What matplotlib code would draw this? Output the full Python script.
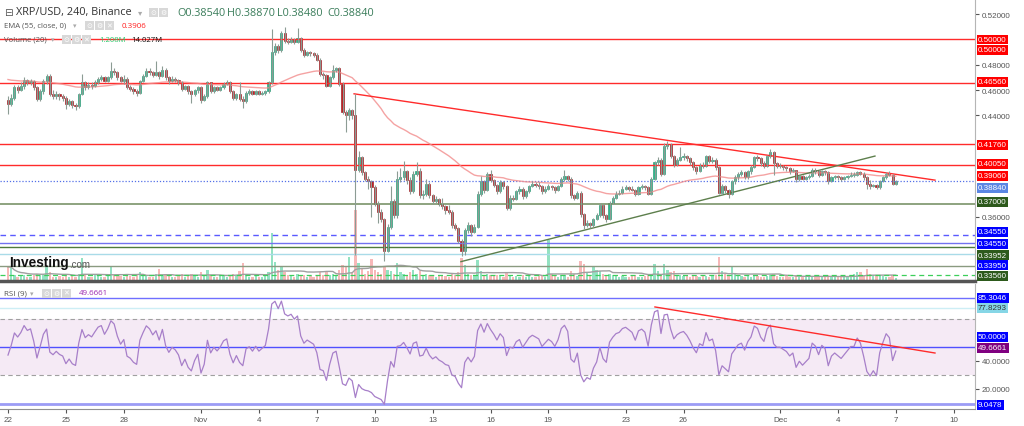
import numpy as np
import pandas as pd
import matplotlib
matplotlib.use('Agg')
import matplotlib.pyplot as plt
from matplotlib.patches import Rectangle

plt.rcParams['font.family'] = ['Liberation Sans', 'DejaVu Sans']

""" XRP/USD, 240 (4h candles), Binance -- Oct 21 to Dec 7 """

first_open = 0.452
closes = [
    .449, .454, .462, .460, .463, .468, .466, .467, .462, .453,
    .459, .467, .471, .457, .455, .457, .455, .454, .449, .451,
    .448, .447, .457, .466, .462, .464, .463, .466, .469, .470,
    .467, .470, .475, .474, .470, .467, .469, .462, .461, .459,
    .458, .467, .471, .475, .474, .472, .474, .471, .476, .470,
    .467, .469, .468, .466, .461, .463, .459, .457, .460, .462,
    .452, .455, .466, .459, .462, .460, .462, .465, .466, .459,
    .454, .457, .453, .451, .458, .459, .457, .459, .457, .458,
    .459, .466, .490, .495, .492, .505, .499, .498, .500, .498,
    .501, .492, .488, .490, .489, .488, .484, .473, .472,
    .463, .470, .476, .477, .465, .443, .440, .444, .440, .397,
    .407, .395, .390, .388, .383, .370, .364, .358, .333, .352,
    .372, .361, .390, .391, .396, .389, .380, .394, .396, .377,
    .378, .386, .377, .372, .374, .370, .368, .365, .364, .353, .351,
    .341, .333, .349, .353, .348, .352, .378, .388, .381, .394,
    .389, .385, .380, .387, .384, .367, .375, .374, .380, .382,
    .376, .380, .384, .386, .385, .384, .380, .382, .384, .383,
    .381, .384, .390, .392, .390, .377, .375, .379, .362, .353,
    .355, .353, .358, .361, .369, .361, .358, .371, .375, .378,
    .379, .382, .383, .382, .381, .378, .383, .384, .383, .378,
    .390, .403, .405, .394, .416, .417, .408, .401, .405, .407,
    .408, .406, .403, .399, .396, .401, .400, .408, .404, .405,
    .399, .379, .384, .381, .378, .388, .391, .394, .395, .391,
    .396, .399, .407, .406, .402, .400, .408, .411, .402, .400,
    .400, .399, .398, .396, .397, .390, .392, .390, .391, .392,
    .397, .396, .393, .396, .395, .388, .391, .392, .391, .390,
    .391, .392, .393, .393, .395, .394, .391, .386, .384, .385,
    .383, .388, .391, .394, .393, .3854, .3884]
highs = [
    .455, .457, .464, .464, .466, .470, .469, .469, .468, .463,
    .461, .469, .473, .473, .460, .459, .458, .457, .455, .453,
    .452, .450, .458, .473, .467, .466, .466, .468, .470, .472,
    .471, .471, .482, .477, .475, .471, .472, .470, .464, .462,
    .461, .468, .473, .477, .477, .475, .483, .475, .479, .477,
    .471, .471, .470, .469, .467, .464, .464, .460, .461, .463,
    .463, .457, .467, .466, .463, .463, .463, .466, .468, .467,
    .460, .458, .466, .455, .459, .461, .460, .460, .460, .459,
    .460, .467, .508, .497, .496, .507, .510, .501, .502, .501,
    .509, .502, .493, .491, .491, .490, .489, .485, .474,
    .473, .471, .480, .478, .478, .466, .444, .446, .445, .457,
    .412, .408, .396, .392, .389, .385, .372, .366, .359, .354,
    .384, .374, .396, .398, .404, .397, .391, .396, .403, .398,
    .381, .390, .387, .378, .376, .375, .375, .369, .369, .365, .355,
    .352, .342, .351, .356, .354, .354, .380, .392, .389, .395,
    .397, .390, .386, .389, .388, .385, .377, .377, .381, .384,
    .383, .381, .385, .388, .387, .387, .385, .384, .386, .385,
    .384, .385, .391, .397, .393, .391, .378, .380, .380, .363,
    .357, .356, .359, .363, .371, .370, .362, .372, .376, .380,
    .381, .384, .385, .384, .384, .382, .384, .386, .385, .384,
    .391, .404, .407, .406, .418, .420, .418, .409, .406, .415,
    .410, .409, .407, .404, .400, .402, .403, .409, .409, .407,
    .406, .400, .386, .385, .382, .389, .393, .395, .397, .396,
    .397, .401, .408, .409, .407, .404, .409, .413, .412, .403,
    .402, .401, .400, .399, .398, .397, .393, .393, .392, .394,
    .398, .398, .397, .397, .397, .396, .392, .393, .393, .392,
    .392, .393, .395, .395, .396, .396, .395, .392, .389, .386,
    .386, .389, .392, .395, .396, .394, .3887]
lows = [
    .441, .447, .452, .458, .459, .461, .464, .464, .460, .451,
    .451, .457, .465, .455, .453, .453, .452, .451, .445, .447,
    .446, .444, .446, .456, .460, .461, .461, .462, .465, .467,
    .466, .466, .469, .472, .468, .466, .465, .461, .459, .457,
    .455, .457, .466, .470, .472, .470, .471, .469, .470, .468,
    .465, .466, .466, .464, .459, .460, .457, .450, .455, .458,
    .450, .451, .454, .458, .458, .459, .459, .461, .464, .458,
    .452, .452, .451, .446, .450, .456, .456, .456, .456, .456,
    .456, .458, .465, .488, .489, .490, .497, .496, .497, .496,
    .497, .490, .486, .487, .487, .486, .483, .471, .469,
    .462, .462, .469, .474, .463, .441, .427, .436, .437, .330,
    .395, .393, .388, .382, .360, .368, .355, .356, .325, .332,
    .350, .359, .359, .387, .389, .386, .378, .379, .392, .375,
    .374, .376, .375, .370, .371, .368, .366, .362, .362, .351, .349,
    .339, .329, .330, .347, .345, .347, .351, .376, .379, .380,
    .387, .383, .378, .379, .382, .365, .365, .372, .373, .378,
    .374, .375, .379, .383, .383, .382, .378, .379, .381, .381,
    .379, .380, .383, .388, .388, .375, .373, .374, .360, .350,
    .352, .351, .352, .357, .360, .359, .356, .357, .370, .374,
    .377, .378, .381, .380, .380, .376, .377, .382, .381, .377,
    .377, .389, .401, .392, .393, .413, .406, .399, .400, .404,
    .405, .404, .401, .397, .394, .395, .398, .399, .402, .402,
    .397, .378, .377, .379, .375, .377, .386, .389, .392, .390,
    .390, .394, .398, .404, .400, .398, .399, .406, .393, .398,
    .398, .397, .396, .394, .395, .387, .388, .389, .389, .390,
    .391, .394, .391, .392, .393, .386, .387, .390, .389, .388,
    .389, .390, .391, .391, .392, .393, .389, .382, .382, .383,
    .382, .382, .387, .390, .392, .385, .3848]
# volume in millions
volumes = [
    23, 22, 9, 7, 8, 10, 6, 7, 9, 12,
    8, 10, 22, 14, 7, 6, 8, 7, 11, 6,
    8, 7, 12, 38, 10, 7, 6, 9, 8, 7,
    6, 8, 22, 9, 10, 8, 7, 12, 8, 7,
    9, 14, 10, 9, 6, 7, 12, 20, 9, 11,
    8, 7, 6, 8, 11, 7, 9, 12, 8, 7,
    14, 8, 18, 10, 7, 6, 8, 9, 7, 10,
    12, 8, 16, 30, 11, 7, 6, 8, 7, 6,
    9, 14, 78, 31, 18, 22, 15, 9, 8, 7,
    12, 10, 9, 7, 8, 7, 10, 14, 9,
    15, 10, 11, 8, 18, 26, 24, 39, 15, 115,
    30, 20, 12, 16, 36, 18, 14, 12, 25, 18,
    16, 12, 30, 14, 12, 10, 14, 18, 12, 16,
    8, 12, 10, 9, 7, 9, 10, 8, 7, 12, 10,
    14, 37, 26, 12, 10, 9, 34, 16, 10, 12,
    9, 8, 10, 8, 7, 14, 10, 6, 8, 7,
    9, 7, 8, 7, 6, 8, 10, 7, 67, 12,
    8, 7, 10, 9, 7, 16, 12, 8, 33, 27,
    14, 10, 25, 18, 16, 12, 10, 12, 9, 8,
    7, 8, 6, 7, 8, 10, 7, 6, 8, 10,
    12, 28, 16, 12, 28, 18, 14, 16, 10, 9,
    8, 9, 7, 10, 8, 7, 9, 8, 7, 10,
    9, 39, 16, 12, 10, 23, 12, 9, 8, 7,
    8, 7, 9, 8, 7, 6, 8, 10, 12, 8,
    7, 6, 8, 7, 6, 9, 7, 6, 7, 8,
    7, 6, 8, 7, 6, 9, 8, 7, 6, 8,
    7, 8, 9, 12, 15, 14, 10, 20, 12, 10,
    8, 9, 8, 7, 6, 9, 5]

ema_seed = 0.469          # EMA(55) level at the left edge
rsi_seed_gain = 0.0022    # RSI(9) running averages at the left edge
rsi_seed_loss = 0.0024

# horizontal levels
red_levels = [0.5000, 0.4656, 0.4176, 0.4005]
last_close = 0.3884
green_level = 0.3700
blue_dashed_level = 0.3455
blue_level = 0.3395
dkgreen_level = 0.3356
cyan_level = 0.3302
olive_level = 0.3209
vol_dashed_level = 10
rsi_blue_levels = [85.3046, 50.0, 9.0478]
rsi_cyan_level = 77.8293

# trendlines: (days after Oct 22, value)
red_trend = ([17.93, 48.03], [0.457, 0.3888])
green_trend = ([23.47, 44.92], [0.3244, 0.4078])
rsi_trend = ([33.52, 48.03], [78.6, 45.7])

tick_days = [0, 3, 6, 10, 13, 16, 19, 22, 25, 28, 32, 35, 40, 43, 46, 49]
tick_labels = ['22', '25', '28', 'Nov', '4', '7', '10', '13', '16', '19',
               '23', '26', 'Dec', '4', '7', '10']
price_ticks = [0.36, 0.44, 0.46, 0.48, 0.52]
rsi_ticks = [20, 40]

# right axis tags: (text, pixel y, box colour, text colour)
price_tags = [('0.50000', 40.5, '#ff0000', 'white'), ('0.50000', 51, '#ff0000', 'white'),
              ('0.46560', 83, '#ff0000', 'white'), ('0.41760', 146, '#ff0000', 'white'),
              ('0.40050', 165, '#ff0000', 'white'), ('0.39060', 177, '#ff0000', 'white'),
              ('0.38840', 189, '#5b86e3', 'white'), ('0.37000', 203, '#2d5a1c', 'white'),
              ('0.34550', 233, '#0000ff', 'white'), ('0.34550', 245, '#0000ff', 'white'),
              ('0.33952', 256, '#2d5a1c', 'white'), ('0.33950', 266, '#0000ff', 'white'),
              ('0.33560', 277, '#2d5a1c', 'white')]
rsi_tags = [('85.3046', 299, '#0000ff', 'white'), ('77.8293', 309, '#86d6e6', '#333333'),
            ('50.0000', 338, '#0000ff', 'white'), ('49.6661', 349, '#800080', 'white'),
            ('9.0478', 406, '#0000ff', 'white')]

# ---- derived series ----
n = len(closes)
days = 46 - (n - 1 - np.arange(n)) / 6          # one candle every 4 hours
opens = np.array([first_open] + closes[:-1])
c = np.array(closes)
up = c >= opens

alpha = 2 / (55 + 1)
ema = []
prev = ema_seed
for v in closes:
    prev = prev + alpha * (v - prev)
    ema.append(prev)

# Wilder RSI(9)
rsi = []
g, l = rsi_seed_gain, rsi_seed_loss
for o_, v in zip(opens, closes):
    d = v - o_
    g = (g * 8 + max(d, 0)) / 9
    l = (l * 8 + max(-d, 0)) / 9
    rsi.append(100 - 100 / (1 + g / l))

vol_ma = pd.Series(volumes).rolling(20, min_periods=1).mean()

# ---- figure ----
W, H = 1024, 427
fig = plt.figure(figsize=(W / 100, H / 100), dpi=100)
fig.patch.set_facecolor('white')

price_rect = [0, 1 - 282 / H, 975 / W, 282 / H]
vax = fig.add_axes(price_rect)
ax = fig.add_axes(price_rect, sharex=vax)
rax = fig.add_axes([0, 1 - 410 / H, 975 / W, 125 / H], sharex=vax)
xlim = (-8 / 19.3, 967 / 19.3)

# volume behind the candles
vcol = np.where(up, '#93e2c2', '#f7b8b8')
vax.bar(days, volumes, width=0.12, color=vcol, linewidth=0)
vax.plot(days, vol_ma, color='#a0a0a0', lw=1)
vax.axhline(vol_dashed_level, color='#3ccf5a', lw=0.9, dashes=(4, 3))
vax.set_ylim(0, 459)
vax.set_xlim(*xlim)
vax.axis('off')

ax.set_facecolor('none')
for lvl in red_levels:
    ax.axhline(lvl, color='#ff2b2b', lw=1)
ax.axhline(last_close, color='#5470e8', lw=0.9, ls=(0, (1, 1.5)))
ax.axhline(green_level, color='#6f8a5c', lw=1.1)
ax.axhline(blue_dashed_level, color='#5a5aff', lw=1, dashes=(4, 3))
ax.axhline(blue_level, color='#7272f0', lw=1)
ax.axhline(dkgreen_level, color='#4f7a3c', lw=1)
ax.axhline(cyan_level, color='#a9dbe8', lw=1)
ax.axhline(olive_level, color='#8a9a80', lw=1)

ax.plot(days, ema, color='#f28c8c', lw=1, alpha=0.8)
ax.plot(*red_trend, color='#ff2b2b', lw=1)
ax.plot(*green_trend, color='#5d7f4c', lw=1)

# candles
ax.vlines(days, lows, highs, color='#8c9c94', lw=0.8)
body_lo = np.minimum(opens, c)
body_h = np.maximum(np.abs(c - opens), 0.0005)
ax.bar(days, body_h, bottom=body_lo, width=0.11,
       color=np.where(up, '#2bb88c', '#c01a1f'),
       edgecolor=np.where(up, '#1c8e68', '#8e1014'), linewidth=0.4)

ax.set_ylim(0.3091, 0.5319)
ax.set_xlim(*xlim)
ax.yaxis.tick_right()
ax.set_yticks(price_ticks)
ax.set_yticklabels(['%.5f' % v for v in price_ticks])
ax.tick_params(axis='y', labelsize=5.8, colors='#555555', length=3, pad=2)
ax.tick_params(axis='x', bottom=False, labelbottom=False)
for s in ['top', 'left']:
    ax.spines[s].set_visible(False)
ax.spines['right'].set_color('#b5b5b5')
ax.spines['bottom'].set_color('#555555')
ax.spines['bottom'].set_linewidth(2.5)

# RSI panel
rax.axhspan(30, 70, color='#f5eaf5', lw=0)
rax.axhline(70, color='#a0a0a0', lw=0.8, dashes=(4, 3))
rax.axhline(30, color='#a0a0a0', lw=0.8, dashes=(4, 3))
rax.axhline(rsi_blue_levels[0], color='#6f6fff', lw=1)
rax.axhline(rsi_blue_levels[1], color='#5050ff', lw=1)
rax.axhline(rsi_blue_levels[2], color='#9c9cf5', lw=2)
rax.axhline(rsi_cyan_level, color='#cdeef5', lw=1)
rax.plot(days, rsi, color='#a77fc9', lw=0.9)
rax.plot(*rsi_trend, color='#ff2b2b', lw=1)
rax.set_ylim(5.7, 95)
rax.set_xlim(*xlim)
rax.yaxis.tick_right()
rax.set_yticks(rsi_ticks)
rax.set_yticklabels(['%.4f' % v for v in rsi_ticks])
rax.tick_params(axis='y', labelsize=5.8, colors='#555555', length=3, pad=2)
rax.set_xticks(tick_days)
rax.set_xticklabels(tick_labels)
rax.tick_params(axis='x', labelsize=5.8, colors='#555555', length=3, pad=2)
for s in ['top', 'left']:
    rax.spines[s].set_visible(False)
rax.spines['right'].set_color('#b5b5b5')
rax.spines['bottom'].set_color('#909090')


# ---- overlay texts (pixel positions) ----
def ftext(x, y, s, **kw):
    return fig.text(x / W, 1 - y / H, s, va='center', **kw)


def icon(x, y, glyph):
    fig.add_artist(Rectangle((x / W, 1 - (y + 4.5) / H), 9 / W, 9 / H,
                             transform=fig.transFigure, fc='#d8d8d8', ec='none'))
    ftext(x + 4.5, y, glyph, ha='center', color='white', fontsize=5, family='DejaVu Sans')


for s, y, bg, fg in price_tags + rsi_tags:
    ftext(978, y, s, ha='left', color=fg, fontsize=5.8, zorder=10,
          bbox=dict(boxstyle='square,pad=0.18', fc=bg, ec='none'))

hdr = ['Open Sans', 'DejaVu Sans']
ftext(4, 13, '⊟', color='#555555', fontsize=7.5, family='DejaVu Sans')
ftext(16, 13, 'XRP/USD, 240, Binance', color='#333333', fontsize=7.8, family=hdr)
ftext(138, 13, '▾', color='#aaaaaa', fontsize=6, family='DejaVu Sans')
icon(149, 13, '⊙')
icon(159, 13, '⚙')
for x, s in zip([177, 227, 277, 327], ['O0.38540', 'H0.38870', 'L0.38480', 'C0.38840']):
    ftext(x, 13, s, color='#3b7d5b', fontsize=7.8, family=hdr)

ftext(4, 26, 'EMA (55, close, 0)', color='#555555', fontsize=5.6, family=hdr)
ftext(73, 26, '▾', color='#aaaaaa', fontsize=5, family='DejaVu Sans')
icon(85, 26, '⊙')
icon(95, 26, '⚙')
icon(105, 26, '✕')
ftext(122, 26, '0.3906', color='#ff2020', fontsize=5.8, family=hdr)

ftext(4, 40, 'Volume (20)', color='#555555', fontsize=5.6, family=hdr)
ftext(51, 40, '▾', color='#aaaaaa', fontsize=5, family='DejaVu Sans')
icon(62, 40, '⊙')
icon(72, 40, '⚙')
icon(82, 40, '✕')
ftext(99, 40, '1.208M', color='#2ecc71', fontsize=5.6, family=hdr)
ftext(131, 40, '14.027M', color='#111111', fontsize=5.6, family=hdr)

ftext(4, 294, 'RSI (9)', color='#555555', fontsize=5.8, family=hdr)
ftext(30, 294, '▾', color='#aaaaaa', fontsize=5, family='DejaVu Sans')
icon(42, 294, '⊙')
icon(52, 294, '⚙')
icon(62, 294, '✕')
ftext(79, 294, '49.6661', color='#9c27b0', fontsize=5.8, family=hdr)

# watermark
ftext(9, 263, 'Investing', color='#111111', fontsize=9.8, fontweight='bold')
ftext(69, 265, '.com', color='#555555', fontsize=7)

fig.savefig('out.png', dpi=100)
